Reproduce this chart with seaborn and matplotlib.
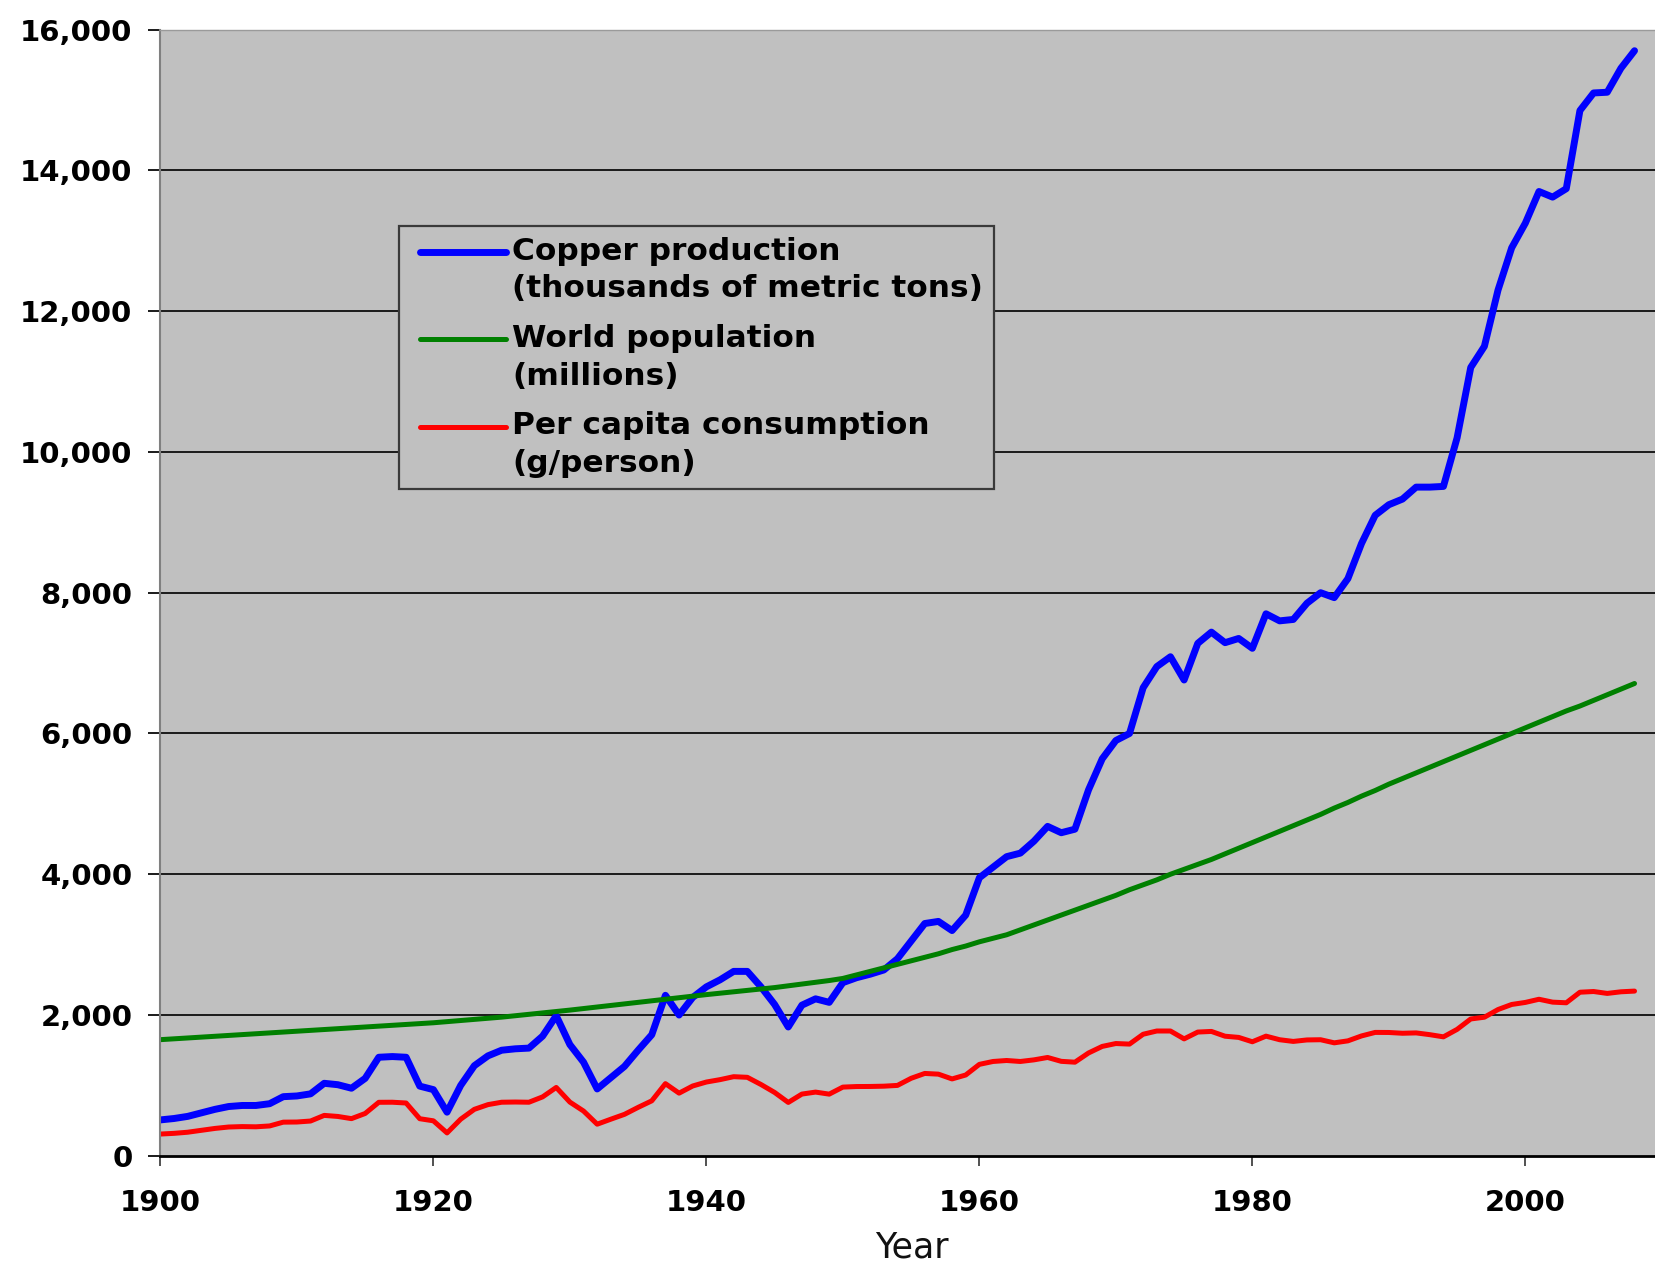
import numpy as np
import pandas as pd
import matplotlib
matplotlib.use("Agg")
import matplotlib.pyplot as plt
import seaborn as sns
from matplotlib.lines import Line2D
from matplotlib.legend_handler import HandlerLine2D
from matplotlib.ticker import StrMethodFormatter

# ---- data -----------------------------------------------------------------
years = list(range(1900, 2009))

# World copper mine production, thousands of metric tons
copper_kt = [
    510, 530, 560, 610, 660, 700, 715, 715, 740, 840,        # 1900-1909
    850, 880, 1030, 1010, 960, 1100, 1400, 1410, 1400, 990,  # 1910-1919
    940, 620, 1000, 1280, 1420, 1500, 1520, 1530, 1700, 1990,  # 1920-1929
    1580, 1330, 950, 1110, 1270, 1500, 1720, 2280, 2000, 2250,  # 1930-1939
    2400, 2500, 2620, 2620, 2400, 2150, 1830, 2140, 2230, 2180,  # 1940-1949
    2460, 2530, 2580, 2640, 2800, 3050, 3300, 3330, 3200, 3420,  # 1950-1959
    3950, 4100, 4250, 4300, 4470, 4680, 4590, 4640, 5200, 5640,  # 1960-1969
    5900, 6000, 6650, 6950, 7090, 6760, 7280, 7440, 7290, 7350,  # 1970-1979
    7210, 7700, 7600, 7620, 7850, 8000, 7930, 8200, 8700, 9100,  # 1980-1989
    9250, 9330, 9500, 9500, 9510, 10200, 11200, 11500, 12300, 12900,  # 1990-1999
    13250, 13700, 13620, 13740, 14850, 15100, 15110, 15450, 15700,    # 2000-2008
]

# World population, millions
population_m = [
    1650, 1662, 1674, 1686, 1698, 1710, 1722, 1734, 1746, 1758,
    1770, 1782, 1794, 1806, 1818, 1830, 1842, 1854, 1866, 1878,
    1890, 1906, 1922, 1938, 1954, 1970, 1990, 2010, 2030, 2050,
    2070, 2092, 2114, 2136, 2158, 2180, 2202, 2224, 2246, 2268,
    2290, 2310, 2330, 2350, 2370, 2390, 2415, 2440, 2465, 2490,
    2520, 2570, 2620, 2670, 2720, 2770, 2820, 2870, 2930, 2980,
    3040, 3090, 3140, 3210, 3280, 3350, 3420, 3490, 3560, 3630,
    3700, 3780, 3850, 3920, 4000, 4070, 4140, 4210, 4290, 4370,
    4450, 4530, 4610, 4690, 4770, 4850, 4940, 5020, 5110, 5190,
    5280, 5360, 5440, 5520, 5600, 5680, 5760, 5840, 5920, 6000,
    6080, 6160, 6240, 6320, 6390, 6470, 6550, 6630, 6710,
]

# Per capita copper, grams per person
per_capita_g = [
    309, 319, 335, 362, 389, 409, 415, 412, 424, 478,
    480, 494, 574, 559, 528, 601, 760, 761, 750, 527,
    497, 325, 520, 660, 727, 761, 764, 761, 837, 971,
    763, 636, 449, 520, 589, 688, 781, 1025, 890, 992,
    1048, 1082, 1124, 1115, 1013, 900, 758, 877, 905, 876,
    976, 984, 985, 989, 1000, 1101, 1170, 1160, 1092, 1148,
    1299, 1340, 1354, 1340, 1363, 1397, 1342, 1330, 1461, 1554,
    1595, 1587, 1727, 1773, 1773, 1661, 1758, 1767, 1699, 1682,
    1620, 1700, 1649, 1625, 1646, 1649, 1605, 1633, 1703, 1753,
    1752, 1741, 1746, 1721, 1690, 1796, 1944, 1969, 2078, 2150,
    2179, 2224, 2183, 2174, 2324, 2334, 2307, 2330, 2340,
]

labels = [
    "Copper production\n(thousands of metric tons)",
    "World population\n(millions)",
    "Per capita consumption\n(g/person)",
]
colors = ["#0000FF", "#008000", "#FF0000"]
widths = [5.0, 3.6, 3.6]

x_ticks = [1900, 1920, 1940, 1960, 1980, 2000]
y_ticks = list(range(0, 16001, 2000))


class FirstLineHandler(HandlerLine2D):
    """Legend line placed beside the first line of a two-line label,
    with a small lead-in gap before the line starts."""

    def __init__(self, shift, lead, **kw):
        super().__init__(**kw)
        self.shift = shift
        self.lead = lead

    def create_artists(self, legend, orig_handle, xdescent, ydescent,
                       width, height, fontsize, trans):
        artists = super().create_artists(legend, orig_handle, xdescent, ydescent,
                                         width, height, fontsize, trans)
        for a in artists:
            xd = np.asarray(a.get_xdata(), dtype=float)
            a.set_xdata(np.linspace(xd[0] + self.lead, xd[-1], len(xd)))
            a.set_ydata(np.asarray(a.get_ydata(), dtype=float) + self.shift)
        return artists


# ---- figure ---------------------------------------------------------------
sns.set_theme(style="ticks")
plt.rcParams["font.family"] = ["DejaVu Sans"]

W, H = 1655, 1268
fig = plt.figure(figsize=(W / 100, H / 100), dpi=100, facecolor="white")
ax = fig.add_axes([160.4 / W, 112.2 / H, 1494.6 / W, 1126.2 / H])
ax.set_facecolor("#C0C0C0")
ax.set_axisbelow(True)

df = pd.DataFrame({"year": years, "copper": copper_kt,
                   "population": population_m, "per_capita": per_capita_g})
for col, lab, c, lw in zip(["copper", "population", "per_capita"], labels, colors, widths):
    sns.lineplot(data=df, x="year", y=col, ax=ax, color=c, linewidth=lw,
                 label=lab, legend=False)

ax.set_xlim(1900, 2009.5)
ax.set_ylim(0, 16000)
ax.set_xticks(x_ticks)
ax.set_yticks(y_ticks)
ax.yaxis.set_major_formatter(StrMethodFormatter("{x:,.0f}"))

ax.grid(axis="y", color="#1a1a1a", linewidth=1.4)
ax.grid(axis="x", visible=False)
glines = ax.yaxis.get_gridlines()
glines[0].set_visible(False)
glines[-1].set_visible(False)

for lab in ax.get_xticklabels() + ax.get_yticklabels():
    lab.set_fontweight("bold")
ax.tick_params(axis="y", direction="out", length=8.6, width=1.4, color="#1a1a1a",
               pad=11.5, labelsize=21, labelcolor="black")
ax.tick_params(axis="x", direction="out", length=7.2, width=1.2, color="#333333",
               pad=16.5, labelsize=21, labelcolor="black")

ax.spines["left"].set_visible(True)
ax.spines["left"].set_color("#808080")
ax.spines["left"].set_linewidth(1.5)
ax.spines["top"].set_visible(True)
ax.spines["top"].set_color("#9a9a9a")
ax.spines["top"].set_linewidth(1.0)
ax.spines["right"].set_visible(False)
ax.spines["bottom"].set_visible(True)
ax.spines["bottom"].set_color("black")
ax.spines["bottom"].set_linewidth(2.0)

ax.set_ylabel("")
ax.set_xlabel("Year", fontsize=25, color="#111111", va="baseline")
ax.xaxis.set_label_coords(0.503, (1155.8 - 1258.0) / 1126.2)

handles = ax.get_lines()[:3]
leg = ax.legend(handles, labels, loc="upper left",
                bbox_to_anchor=(399 / W, 1 - 226 / H), bbox_transform=fig.transFigure,
                borderaxespad=0, prop={"size": 22.5, "weight": "bold"},
                frameon=True, fancybox=False, framealpha=1,
                facecolor="#C0C0C0", edgecolor="#3a3a3a",
                handlelength=3.08, handletextpad=0.2, borderpad=0.35,
                labelspacing=0.66,
                handler_map={Line2D: FirstLineHandler(shift=13.3, lead=7.6)})
leg.get_frame().set_linewidth(1.6)
for t in leg.get_texts():
    t.set_linespacing(1.37)
    t.set_color("black")

fig.savefig("out.png", dpi=100, facecolor="white")
